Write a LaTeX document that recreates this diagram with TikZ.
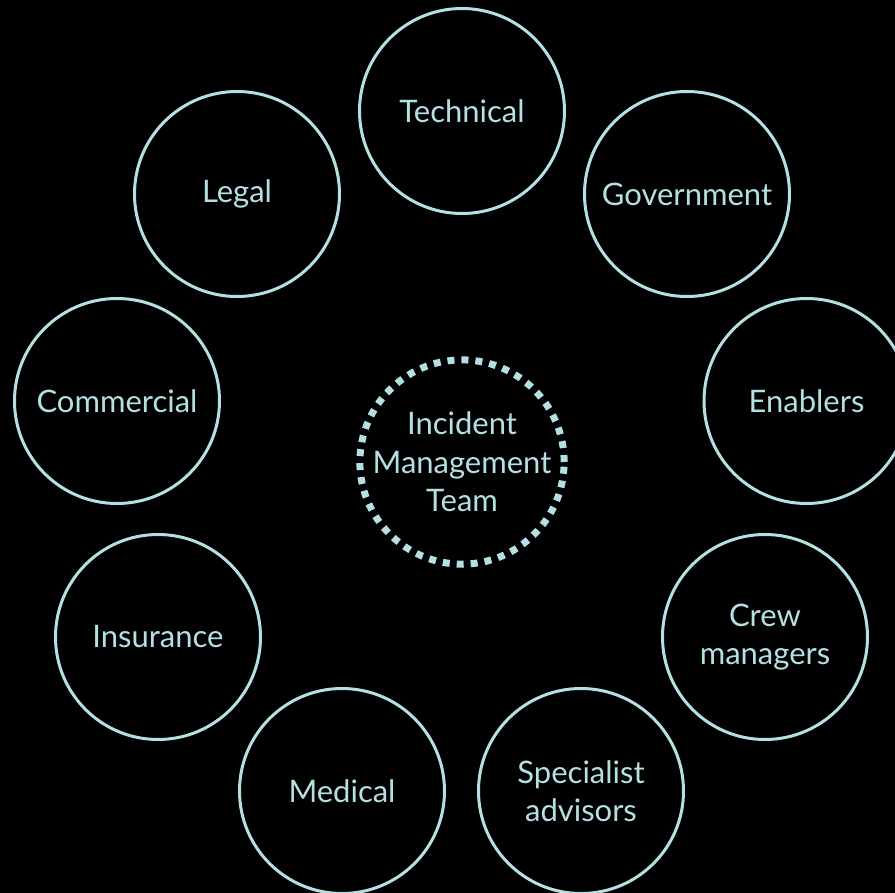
\documentclass[tikz,border=0pt]{standalone}
\usepackage{fontspec}
\setmainfont{Lato}
\definecolor{ring}{HTML}{B5E0E3}
\tikzset{
  member/.style={circle, draw=ring, line width=3pt, minimum size=205pt, inner sep=0pt,
    text=ring, font=\fontsize{31}{38}\selectfont, align=center},
  hub/.style={circle, draw=ring, line width=7pt, dash pattern=on 7pt off 7pt,
    minimum size=200pt, inner sep=0pt, text=ring, font=\fontsize{31}{38.5}\selectfont, align=center}
}
\begin{document}
\begin{tikzpicture}[x=1pt,y=-1pt]
\fill[black] (0,0) rectangle (895,893);
\useasboundingbox (0,0) rectangle (895,893);
\node[hub] (imt) at (462,462) {Incident\\Management\\Team};
\node[member] (tech) at (462,111) {Technical};
\node[member] (gov) at (687,194) {Government};
\node[member] (ena) at (806.5,401) {Enablers};
\node[member] (crew) at (765,637) {Crew\\managers};
\node[member] (spec) at (581,791) {Specialist\\advisors};
\node[member] (med) at (342,791) {Medical};
\node[member] (ins) at (158,637) {Insurance};
\node[member] (com) at (117,401) {Commercial};
\node[member] (leg) at (237,194) {Legal};
\end{tikzpicture}
\end{document}
